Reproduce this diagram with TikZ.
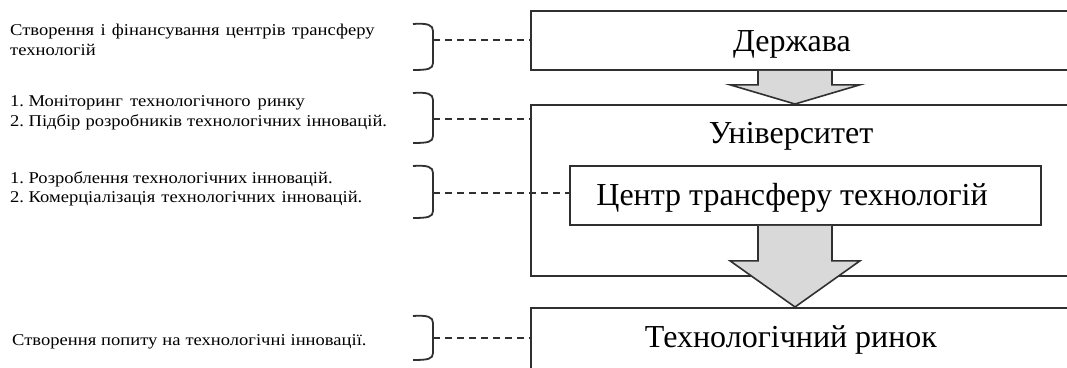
\documentclass[tikz,border=0pt]{standalone}
\usepackage{graphicx}
\usepackage{fontspec}
\setmainfont{Liberation Serif}
\usetikzlibrary{calc}
\definecolor{ln}{HTML}{303030}
\definecolor{arrfill}{HTML}{D9D9D9}
\tikzset{
  box/.style={draw=ln, line width=1.8pt, rectangle, anchor=north west, inner sep=0pt},
  bigtext/.style={font=\fontsize{32}{36}\selectfont, inner sep=0pt, anchor=base},
  smalltext/.style={font=\fontsize{16.5}{20}\selectfont, anchor=base west, inner sep=0pt},
  bracepath/.style={draw=ln, line width=1.8pt},
  dashline/.style={draw=ln, line width=1.8pt, dash pattern=on 7pt off 5pt},
  blockarrow/.style={draw=ln, line width=1.6pt, fill=arrfill, line join=miter}
}
\newcommand{\jline}[2]{\scalebox{1.125}[1]{\makebox[#1][s]{#2}}}
\newcommand{\nline}[1]{\scalebox{1.125}[1]{#1}}
\begin{document}
\begin{tikzpicture}[x=1pt,y=-1pt]
\useasboundingbox (0,0) rectangle (1067,367);
% boxes
\node[box, minimum width=545pt, minimum height=59pt] (d) at (530,10) {};
\node[box, minimum width=545pt, minimum height=171pt] (u) at (530,104) {};
\node[box, minimum width=545pt, minimum height=62pt] (r) at (530,307) {};
\node[box, fill=white, minimum width=471pt, minimum height=59pt] (c) at (569,165) {};
% box texts
\node[bigtext] (dt) at (792,51.5) {Держава};
\node[bigtext] (ut) at (791,143) {Університет};
\node[bigtext] (ct) at (792,205) {Центр трансферу технологій};
\node[bigtext] (rt) at (791,347) {Технологічний ринок};
% block arrows
\coordinate (ax) at (795,0);
\draw[blockarrow] ($(ax |- d.south)+(-37,0)$) -- ++(0,14) -- ++(-28,0) -- (ax |- u.north) -- ($(ax |- d.south)+(65,14)$) -- ++(-28,0) -- ++(0,-14);
\draw[blockarrow] ($(ax |- c.south)+(-37,0)$) -- ++(0,35) -- ++(-28,0) -- (ax |- r.north) -- ($(ax |- c.south)+(65,35)$) -- ++(-28,0) -- ++(0,-35);
% left texts
\node[smalltext] (t1a) at (10,35.7) {\jline{324pt}{Створення і фінансування центрів трансферу}};
\node[smalltext] (t1b) at (10,55.7) {\nline{технологій}};
\node[smalltext] (t2a) at (10,106.7) {\jline{262pt}{1.\kern4pt Моніторинг технологічного ринку}};
\node[smalltext] (t2b) at (10,126.7) {\jline{335pt}{2.\kern4pt Підбір розробників технологічних інновацій.}};
\node[smalltext] (t3a) at (10,183) {\nline{1.\kern4pt Розроблення технологічних інновацій.}};
\node[smalltext] (t3b) at (10,202) {\jline{313pt}{2.\kern4pt Комерціалізація технологічних інновацій.}};
\node[smalltext] (t4) at (12,345) {\jline{315pt}{Створення попиту на технологічні інновації.}};
% braces
\coordinate (b1) at (433,40);
\coordinate (b2) at (433,119);
\coordinate (b3) at (433,193);
\coordinate (b4) at (433,338);
\draw[bracepath] (413,24) .. controls (428,23) and (433,25) .. (433,31) -- (433,63) .. controls (433,69) and (428,70) .. (413,70);
\draw[bracepath] (413,93) .. controls (428,92) and (433,94) .. (433,100) -- (433,136) .. controls (433,142) and (428,143) .. (413,143);
\draw[bracepath] (413,166) .. controls (428,165) and (433,167) .. (433,173) -- (433,211) .. controls (433,217) and (428,218) .. (413,218);
\draw[bracepath] (413,316) .. controls (428,315) and (433,317) .. (433,323) -- (433,353) .. controls (433,359) and (428,360) .. (413,360);
% dashed connectors
\draw[dashline] (b1) -- (b1 -| d.west);
\draw[dashline] (b2) -- (b2 -| u.west);
\draw[dashline] (b3) -- (b3 -| c.west);
\draw[dashline] (b4) -- (b4 -| r.west);
\end{tikzpicture}
\end{document}
